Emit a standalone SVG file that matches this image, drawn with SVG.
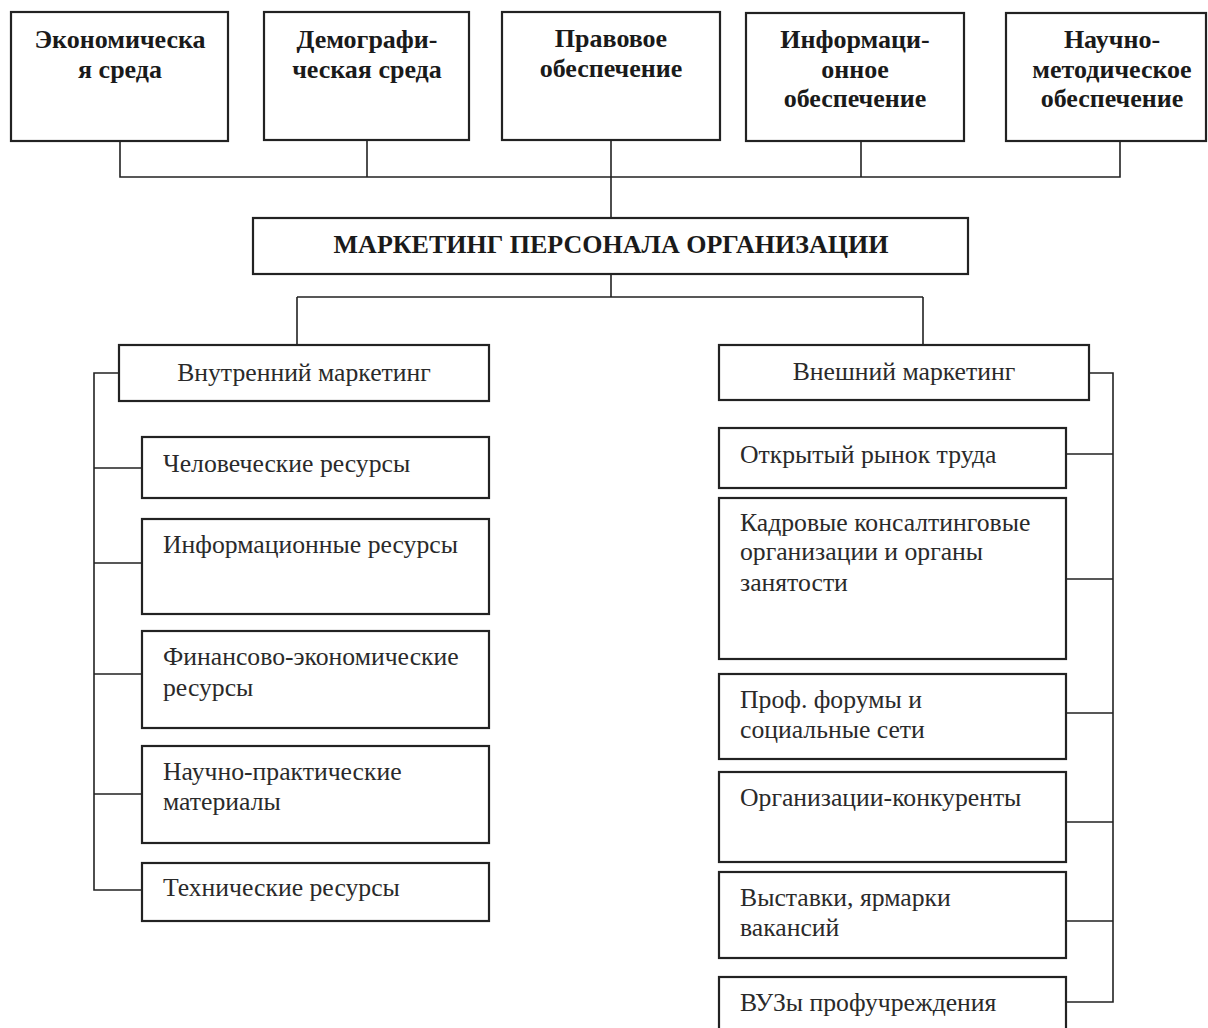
<svg xmlns="http://www.w3.org/2000/svg" width="1208" height="1028" viewBox="0 0 1208 1028">
<style>
.box{fill:#fff;stroke:#222;stroke-width:2.2}
.ln{fill:none;stroke:#222;stroke-width:1.6}
.b{font-weight:bold;font-size:26px;fill:#1a1a1a;text-anchor:middle}
.r{font-size:25.7px;fill:#2a2a2a}
.c{text-anchor:middle}
</style>
<rect width="1208" height="1028" fill="#fff"/>
<g id="connectors">
<path class="ln" d="M120 141V177H1120V141M367 141V177M611 140V218M861 141V177"/>
<path class="ln" d="M611 274V297M297 297H923M297 297V345M923 297V345"/>
<path class="ln" d="M119 373H94V890H142M94 468H142M94 563H142M94 674H142M94 794H142"/>
<path class="ln" d="M1089 373H1113V1002H1066M1066 454H1113M1066 579H1113M1066 713H1113M1066 822H1113M1066 921H1113"/>
</g>
<g font-family="'Liberation Serif', 'Times New Roman', 'DejaVu Serif', serif">
<g id="n-econ"><rect class="box" x="11" y="12" width="217" height="129"/><text class="b" x="120" y="48">Экономическа</text><text class="b" x="120" y="78">я среда</text></g>
<g id="n-demo"><rect class="box" x="264" y="12" width="205" height="128"/><text class="b" x="367" y="48">Демографи-</text><text class="b" x="367" y="78">ческая среда</text></g>
<g id="n-pravo"><rect class="box" x="502" y="12" width="218" height="128"/><text class="b" x="611" y="47">Правовое</text><text class="b" x="611" y="77">обеспечение</text></g>
<g id="n-info"><rect class="box" x="746" y="13" width="218" height="128"/><text class="b" x="855" y="48">Информаци-</text><text class="b" x="855" y="78">онное</text><text class="b" x="855" y="107">обеспечение</text></g>
<g id="n-nauch"><rect class="box" x="1006" y="13" width="200" height="128"/><text class="b" x="1112" y="48">Научно-</text><text class="b" x="1112" y="78">методическое</text><text class="b" x="1112" y="107">обеспечение</text></g>
<g id="n-main"><rect class="box" x="253" y="218" width="715" height="56"/><text class="b" x="611" y="253">МАРКЕТИНГ ПЕРСОНАЛА ОРГАНИЗАЦИИ</text></g>
<g id="n-vnutr"><rect class="box" x="119" y="345" width="370" height="56"/><text class="r c" x="304" y="381">Внутренний маркетинг</text></g>
<g id="n-vnesh"><rect class="box" x="719" y="345" width="370" height="55"/><text class="r c" x="904" y="380">Внешний маркетинг</text></g>
<g id="n-hum"><rect class="box" x="142" y="437" width="347" height="61"/><text class="r" x="163" y="472">Человеческие ресурсы</text></g>
<g id="n-infres"><rect class="box" x="142" y="519" width="347" height="95"/><text class="r" x="163" y="553">Информационные ресурсы</text></g>
<g id="n-fin"><rect class="box" x="142" y="631" width="347" height="97"/><text class="r" x="163" y="665">Финансово-экономические</text><text class="r" x="163" y="696">ресурсы</text></g>
<g id="n-sci"><rect class="box" x="142" y="746" width="347" height="97"/><text class="r" x="163" y="780">Научно-практические</text><text class="r" x="163" y="810">материалы</text></g>
<g id="n-tech"><rect class="box" x="142" y="863" width="347" height="58"/><text class="r" x="163" y="896">Технические ресурсы</text></g>
<g id="n-open"><rect class="box" x="719" y="428" width="347" height="60"/><text class="r" x="740" y="463">Открытый рынок труда</text></g>
<g id="n-kadr"><rect class="box" x="719" y="498" width="347" height="161"/><text class="r" x="740" y="531">Кадровые консалтинговые</text><text class="r" x="740" y="560">организации и органы</text><text class="r" x="740" y="591">занятости</text></g>
<g id="n-prof"><rect class="box" x="719" y="674" width="347" height="85"/><text class="r" x="740" y="708">Проф. форумы и</text><text class="r" x="740" y="738">социальные сети</text></g>
<g id="n-konk"><rect class="box" x="719" y="772" width="347" height="90"/><text class="r" x="740" y="806">Организации-конкуренты</text></g>
<g id="n-vyst"><rect class="box" x="719" y="872" width="347" height="86"/><text class="r" x="740" y="906">Выставки, ярмарки</text><text class="r" x="740" y="936">вакансий</text></g>
<g id="n-vuz"><rect class="box" x="719" y="977" width="347" height="60"/><text class="r" x="740" y="1011">ВУЗы профучреждения</text></g>
</g>
</svg>
